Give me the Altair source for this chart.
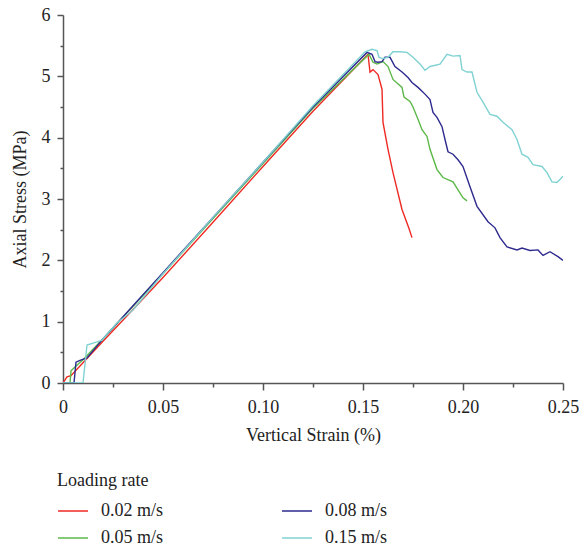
import altair as alt
import pandas as pd

series_names = ["0.02 m/s", "0.05 m/s", "0.08 m/s", "0.15 m/s"]
colors = ["#ee2a24", "#5cb848", "#2e2a8e", "#80d2d2"]

red_x = [0, 0.002, 0.004, 0.01, 0.02, 0.035, 0.05, 0.075, 0.1, 0.125, 0.1525, 0.1535, 0.155, 0.1575, 0.1595, 0.16, 0.1625, 0.165, 0.1695, 0.173, 0.1745]
red_y = [0, 0.1, 0.12, 0.33, 0.68, 1.2, 1.72, 2.62, 3.53, 4.43, 5.36, 5.07, 5.11, 5.03, 4.79, 4.25, 3.81, 3.43, 2.83, 2.52, 2.37]

green_x = [0, 0.0035, 0.004, 0.006, 0.01, 0.02, 0.035, 0.05, 0.075, 0.1, 0.125, 0.153, 0.155, 0.157, 0.16, 0.1625, 0.165, 0.1695, 0.1705, 0.1735, 0.175, 0.1775, 0.1795, 0.182, 0.1835, 0.187, 0.19, 0.195, 0.1975, 0.2, 0.202]
green_y = [0, 0, 0.2, 0.26, 0.38, 0.72, 1.25, 1.78, 2.68, 3.58, 4.48, 5.36, 5.23, 5.2, 5.24, 5.16, 4.95, 4.82, 4.66, 4.59, 4.5, 4.3, 4.13, 4.02, 3.81, 3.48, 3.35, 3.28, 3.15, 3.02, 2.97]

blue_x = [0, 0.0055, 0.0065, 0.0085, 0.012, 0.02, 0.035, 0.05, 0.075, 0.1, 0.125, 0.152, 0.1545, 0.156, 0.1575, 0.1595, 0.161, 0.1635, 0.166, 0.1695, 0.1725, 0.1745, 0.1775, 0.181, 0.1835, 0.185, 0.187, 0.1895, 0.191, 0.1925, 0.195, 0.1975, 0.2, 0.2035, 0.207, 0.2125, 0.216, 0.2185, 0.222, 0.227, 0.2295, 0.2335, 0.2375, 0.24, 0.2435, 0.2475, 0.25]
blue_y = [0, 0, 0.34, 0.37, 0.41, 0.72, 1.26, 1.8, 2.7, 3.6, 4.5, 5.39, 5.36, 5.24, 5.23, 5.24, 5.31, 5.31, 5.16, 5.07, 4.98, 4.9, 4.82, 4.71, 4.62, 4.41, 4.33, 4.18, 3.97, 3.77, 3.73, 3.64, 3.53, 3.2, 2.88, 2.63, 2.53, 2.37, 2.22, 2.17, 2.2, 2.16, 2.17, 2.08, 2.14, 2.06, 2.0]

cyan_x = [0, 0.01, 0.012, 0.017, 0.0195, 0.027, 0.035, 0.05, 0.075, 0.1, 0.125, 0.151, 0.1545, 0.157, 0.158, 0.16, 0.1625, 0.165, 0.1685, 0.172, 0.175, 0.1785, 0.181, 0.1835, 0.1885, 0.192, 0.195, 0.1985, 0.1995, 0.202, 0.2045, 0.207, 0.21, 0.2135, 0.217, 0.22, 0.2245, 0.227, 0.2295, 0.2325, 0.235, 0.2395, 0.242, 0.2445, 0.247, 0.25]
cyan_y = [0, 0, 0.62, 0.67, 0.7, 0.98, 1.19, 1.78, 2.7, 3.6, 4.52, 5.4, 5.44, 5.42, 5.31, 5.29, 5.31, 5.4, 5.4, 5.39, 5.31, 5.2, 5.1, 5.16, 5.2, 5.36, 5.33, 5.34, 5.11, 5.07, 5.07, 4.74, 4.58, 4.38, 4.35, 4.25, 4.13, 3.97, 3.73, 3.68, 3.56, 3.53, 3.43, 3.28, 3.27, 3.37]

x_ticks = [0, 0.025, 0.05, 0.075, 0.10, 0.125, 0.15, 0.175, 0.20, 0.225, 0.25]
y_ticks = [0, 0.5, 1, 1.5, 2, 2.5, 3, 3.5, 4, 4.5, 5, 5.5, 6]

rows = []
for name, xs, ys in zip(series_names, [red_x, green_x, blue_x, cyan_x], [red_y, green_y, blue_y, cyan_y]):
    for i, (a, b) in enumerate(zip(xs, ys)):
        rows.append({"series": name, "strain": a, "stress": b, "idx": i})
df = pd.DataFrame(rows)

FONT = "Liberation Serif"

x_major = "abs(datum.value*20 - round(datum.value*20)) < 0.001"
y_major = "abs(datum.value - round(datum.value)) < 0.001"

lines = alt.Chart(df).mark_line(strokeWidth=1.4, clip=True).encode(
    x=alt.X("strain:Q", scale=alt.Scale(domain=[0, 0.25], nice=False, zero=False),
            title="Vertical Strain (%)",
            axis=alt.Axis(values=x_ticks, orient="bottom",
                          tickSize={"condition": {"test": x_major, "value": 7}, "value": 4},
                          labelPadding=8, labelFlush=False,
                          labelExpr=f"({x_major}) ? (datum.value == 0 ? '0' : format(datum.value, '.2f')) : ''",
                          grid=False, titlePadding=10, labelOverlap=False)),
    y=alt.Y("stress:Q", scale=alt.Scale(domain=[0, 6], nice=False),
            title="Axial Stress (MPa)",
            axis=alt.Axis(values=y_ticks, orient="left",
                          tickSize={"condition": {"test": y_major, "value": 6}, "value": 3},
                          labelPadding=7, labelFlush=False,
                          labelExpr=f"({y_major}) ? format(datum.value, 'd') : ''",
                          grid=False, titlePadding=12, labelOverlap=False)),
    color=alt.Color("series:N", scale=alt.Scale(domain=series_names, range=colors),
                    legend=alt.Legend(title="Loading rate", orient="none", legendX=-6, legendY=457,
                                      columns=2, symbolType="stroke", symbolSize=900,
                                      symbolStrokeWidth=1.5, columnPadding=115, rowPadding=2,
                                      labelFontSize=18, titleFontSize=18, titleFontWeight="normal",
                                      labelFont=FONT, titleFont=FONT, titlePadding=5,
                                      labelOffset=12, labelColor="#222", titleColor="#222")),
    order="idx:Q",
)

chart = lines.properties(
    width=500, height=368,
    autosize=alt.AutoSizeParams(type="none"),
    padding={"left": 63, "top": 15, "right": 18, "bottom": 166},
).configure_view(stroke=None).configure_axis(
    labelFont=FONT, titleFont=FONT, labelFontSize=18, titleFontSize=18,
    titleFontWeight="normal", labelColor="#222", titleColor="#222",
    domainColor="#555", tickColor="#555", domainWidth=1.5, tickWidth=1.5,
)

chart.save("out.html", embed_options={"renderer": "svg", "actions": False})
